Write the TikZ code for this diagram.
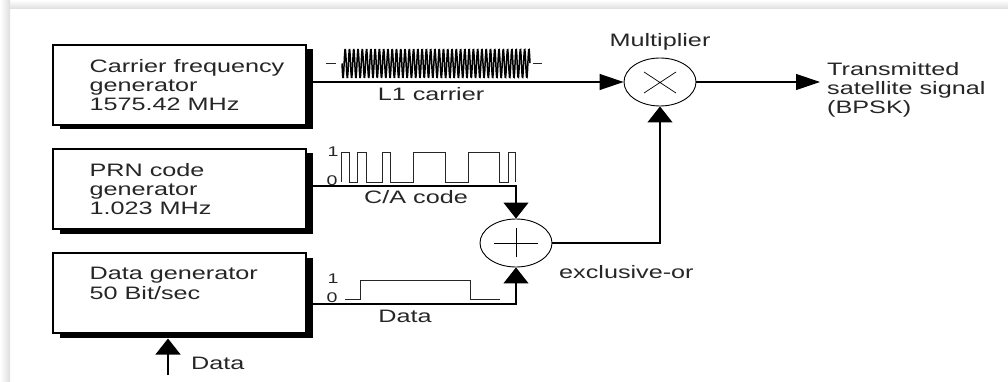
\documentclass[tikz,border=0pt]{standalone}
\usepackage{fontspec}
\setmainfont[FakeStretch=1.4]{Liberation Sans}
\usetikzlibrary{arrows.meta,positioning,shadows,shapes.geometric}
\begin{document}
\begin{tikzpicture}[x=1pt,y=-1pt,
lab/.style={inner sep=0pt,text=black!85,align=left,font=\fontsize{18}{19.3}\selectfont},
digit/.style={inner sep=0pt,text=black!85,font=\fontsize{14}{14}\selectfont},
genbox/.style={draw,line width=1.1pt,fill=white,minimum width=253pt,minimum height=80pt,inner sep=0pt,drop shadow={shadow xshift=7pt,shadow yshift=-4.5pt,fill=black,opacity=1}},
mixer/.style={draw,ellipse,line width=0.9pt,fill=white,minimum width=72pt,minimum height=48pt,inner sep=0pt},
sig/.style={line width=1.2pt},
wave/.style={line width=1pt,black!85},
htip/.style={-{Triangle[length=24pt,width=16pt]}},
vtip/.style={-{Triangle[length=16pt,width=25pt]}}]
\useasboundingbox (0,0) rectangle (1008,382);
\shade[top color=white,bottom color=black!13] (0,0) rectangle (1008,9);
\shade[left color=white,right color=black!13] (0,0) rectangle (10,382);
\node[genbox] (carrier) at (179.5,85) {};
\node[genbox] (prn) at (179.5,189) {};
\node[genbox] (data) at (179.5,293) {};
\node[lab,right=37pt of carrier.west] (carriertext) {Carrier frequency\\generator\\1575.42 MHz};
\node[lab,right=37pt of prn.west] (prntext) {PRN code\\generator\\1.023 MHz};
\node[lab,right=37pt of data.west] (datatext) {Data generator\\50 Bit/sec\\~};
\node[mixer] (mult) at (660,82) {};
\node[mixer] (xor) at (516,243) {};
\coordinate (cacorner) at (516,186);
\coordinate (datacorner) at (516,304);
\coordinate (outtip) at (820,82);
\coordinate (datain) at (168,375);
\draw[line width=0.7pt] (644,72) -- (676,93) (644,93) -- (676,72);
\draw[line width=0.7pt] (494,243) -- (538,243) (516,228) -- (516,257);
\draw[sig,htip] (carrier.east |- mult.west) -- (mult.west);
\draw[sig,htip] (mult.east) -- (outtip);
\draw[sig,vtip] (prn.east |- cacorner) -- (cacorner) -- (xor.north);
\draw[sig,vtip] (data.east |- datacorner) -- (datacorner) -- (xor.south);
\draw[sig,vtip] (xor.east) -| (mult.south);
\draw[sig,vtip,shorten >=5pt] (datain) -- (datain |- data.south);
\draw[line width=1.5pt] plot[samples=441,domain=0:44] ({342+188*\x/44},{63.5+14.5*sin(2*pi*\x r)});
\draw[wave] (326,63.5) -- (336,63.5) (533,63.5) -- (542,63.5);
\draw[wave] (341,182) -- (341,153) -- (349,153) -- (349,182) -- (357,182) -- (357,153) -- (366,153) -- (366,182) -- (382,182) -- (382,153) -- (390,153) -- (390,182) -- (413,182) -- (413,153) -- (445,153) -- (445,182) -- (468,182) -- (468,153) -- (499,153) -- (499,182) -- (508,182) -- (508,153) -- (515,153) -- (515,182);
\draw[wave] (345,299) -- (360,299) -- (360,280) -- (470,280) -- (470,299) -- (500,299);
\node[digit] (carone) at (333,152) {1};
\node[digit] (cazero) at (332,181) {0};
\node[digit] (dataone) at (333,279) {1};
\node[digit] (datazero) at (332,298) {0};
\node[lab] (carrierlab) at (431,94) {L1 carrier};
\node[lab] (calab) at (416,197) {C/A code};
\node[lab] (datalab) at (405,316) {Data};
\node[lab,anchor=west] (inlab) at (191,363) {Data};
\node[lab] (multlab) at (660,42) {Multiplier};
\node[lab,anchor=west] (xorlab) at (559,272) {exclusive-or};
\node[lab,anchor=west] (outlab) at (827,90) {Transmitted\\satellite signal\\(BPSK)};
\end{tikzpicture}
\end{document}
